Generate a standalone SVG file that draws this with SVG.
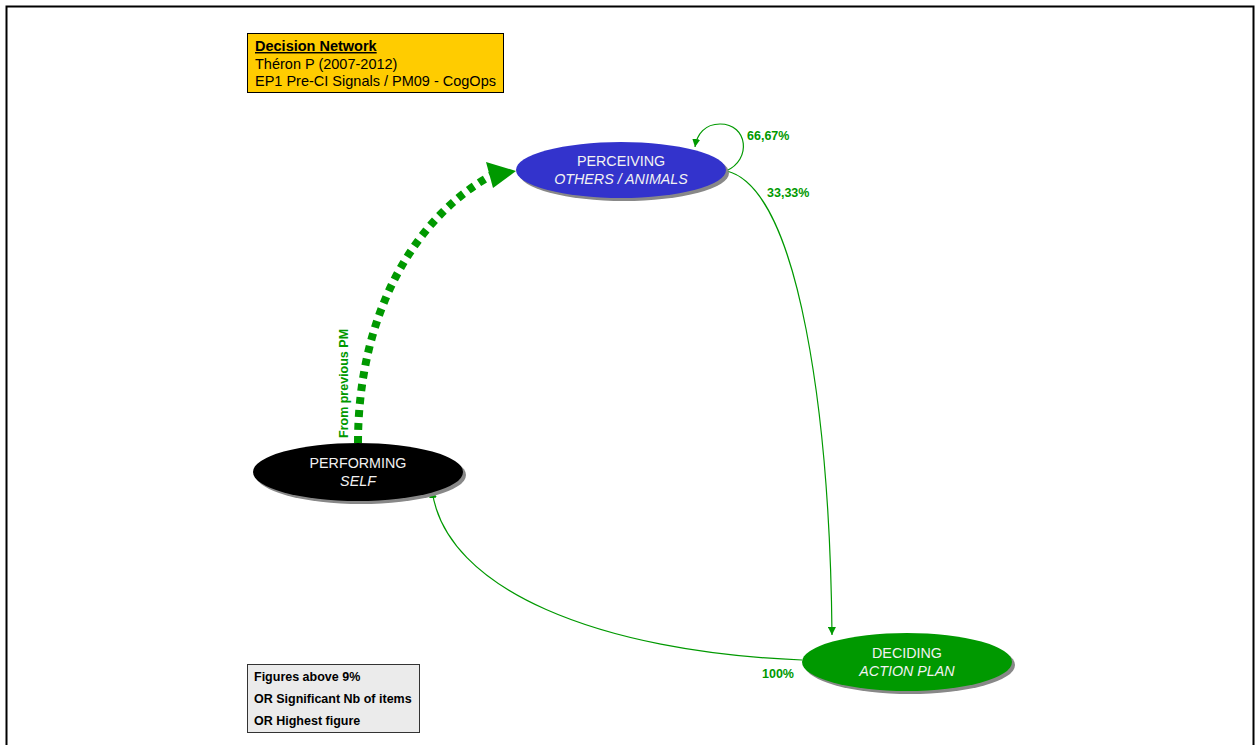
<svg xmlns="http://www.w3.org/2000/svg" width="1260" height="745" viewBox="0 0 1260 745">
<style>
.lbl{font-family:"Liberation Sans",Arial,sans-serif;font-size:12.5px;font-weight:bold;fill:#009900}
.nt{font-family:"Liberation Sans",Arial,sans-serif;font-size:14.3px;fill:#f2f2f2;text-anchor:middle}
.it{font-style:italic}
.edge{fill:none;stroke:#009900;stroke-width:1.2}
.box{font-family:"Liberation Sans",Arial,sans-serif;font-size:14.5px;fill:#000}
.leg{font-family:"Liberation Sans",Arial,sans-serif;font-size:12.5px;font-weight:bold;fill:#000}
</style>
<defs>
<marker id="ah" viewBox="0 0 10 10" refX="10" refY="5" markerWidth="8" markerHeight="8" markerUnits="userSpaceOnUse" orient="auto">
<path d="M0,0 L10,5 L0,10 z" fill="#009900"/>
</marker>
</defs>
<rect x="0" y="0" width="1260" height="745" fill="#fff"/>
<rect x="6.5" y="6.5" width="1247" height="760" fill="none" stroke="#000" stroke-width="2"/>

<g id="title">
<rect x="247.5" y="33.5" width="256" height="59" fill="#FFCC00" stroke="#000" stroke-width="1"/>
<text class="box" x="255" y="51" font-weight="bold" text-decoration="underline">Decision Network</text>
<text class="box" x="255" y="69">Théron P (2007-2012)</text>
<text class="box" x="255" y="86">EP1 Pre-CI Signals / PM09 - CogOps</text>
</g>

<g id="legend">
<rect x="247.5" y="664.5" width="172" height="68" fill="#EBEBEB" stroke="#333" stroke-width="1"/>
<text class="leg" x="254" y="681">Figures above 9%</text>
<text class="leg" x="254" y="703">OR Significant Nb of items</text>
<text class="leg" x="254" y="725">OR Highest figure</text>
</g>

<g id="connectors">
<path d="M358,443 C 358,320 410,220 492,175" fill="none" stroke="#009900" stroke-width="8" stroke-dasharray="7,6"/>
<polygon points="486,162 493,188 516,171" fill="#009900"/>
<text class="lbl" transform="translate(348,438) rotate(-90)">From previous PM</text>

<path class="edge" d="M726,171 C 752,160 748,124 720,124 C 705,124 697,134 695,147" marker-end="url(#ah)"/>
<text class="lbl" x="747" y="140">66,67%</text>

<path class="edge" d="M727,171 C 800,190 830,420 832,635" marker-end="url(#ah)"/>
<text class="lbl" x="767" y="197">33,33%</text>

<path class="edge" d="M802,660 C 600,652 445,590 432,490" marker-end="url(#ah)"/>
<text class="lbl" x="762" y="678">100%</text>
</g>

<g id="perceiving">
<ellipse cx="624" cy="173" rx="105" ry="28" fill="#888"/>
<ellipse cx="621" cy="170" rx="105" ry="28" fill="#3333CC"/>
<text class="nt" x="621" y="166">PERCEIVING</text>
<text class="nt it" x="621" y="184">OTHERS / ANIMALS</text>
</g>

<g id="performing">
<ellipse cx="361" cy="475" rx="105" ry="29" fill="#888"/>
<ellipse cx="358" cy="472" rx="105" ry="29" fill="#000"/>
<text class="nt" x="358" y="468">PERFORMING</text>
<text class="nt it" x="358" y="486">SELF</text>
</g>

<g id="deciding">
<ellipse cx="910" cy="665" rx="105" ry="29" fill="#888"/>
<ellipse cx="907" cy="662" rx="105" ry="29" fill="#009900"/>
<text class="nt" x="907" y="658">DECIDING</text>
<text class="nt it" x="907" y="676">ACTION PLAN</text>
</g>
</svg>
